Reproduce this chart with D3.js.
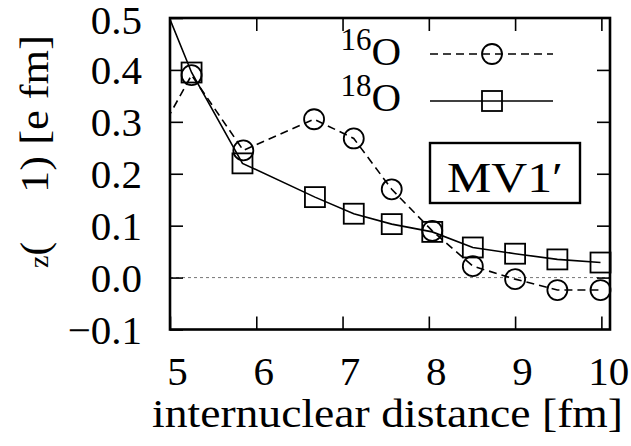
<!DOCTYPE html>
<html>
<head>
<meta charset="utf-8">
<script src="https://cdn.jsdelivr.net/npm/d3@7"></script>
<style>
  html, body { margin: 0; padding: 0; background: #fff; }
  svg { display: block; }
  text { font-family: "Liberation Serif", "Times New Roman", serif; fill: #000; }
</style>
</head>
<body>
<svg id="chart" width="631" height="446"></svg>
<script>
// ---- data ----
const xTicks = [5, 6, 7, 8, 9, 10];
const yTicks = [-0.1, 0.0, 0.1, 0.2, 0.3, 0.4, 0.5];
const yTickLabels = ["\u22120.1", "0.0", "0.1", "0.2", "0.3", "0.4", "0.5"];

// 16O (dashed, circles); first point lies left of the frame (line enters at x=5)
const x16 = [4.75, 5.25, 5.85, 6.67, 7.13, 7.57, 8.04, 8.51, 9.00, 9.49, 9.99];
const y16 = [0.240, 0.390, 0.245, 0.305, 0.268, 0.170, 0.090, 0.022, -0.003, -0.024, -0.024];

// 18O (solid, squares); first point lies left of the frame
const x18 = [4.75, 5.25, 5.84, 6.68, 7.13, 7.57, 8.04, 8.51, 9.00, 9.49, 9.99];
const y18 = [0.600, 0.395, 0.220, 0.155, 0.123, 0.103, 0.088, 0.058, 0.046, 0.035, 0.029];

const seriesNames = ["16O", "18O"];
const boxLabel = "MV1\u2032";
const xLabel = "internuclear distance [fm]";

// ---- layout ----
const L = 170, R = 610, T = 18, B = 329.5;
const FS = 41;

const svg = d3.select("#chart");
const x = d3.scaleLinear().domain([5, 10.1]).range([L, R]);
const y = d3.scaleLinear().domain([-0.1, 0.5]).range([B, T]);

svg.append("defs").append("clipPath").attr("id", "clip")
  .append("rect").attr("x", L).attr("y", T).attr("width", R - L).attr("height", B - T);

// zero line
svg.append("line")
  .attr("x1", x(5)).attr("x2", x(10.1)).attr("y1", y(0)).attr("y2", y(0))
  .attr("stroke", "#777").attr("stroke-width", 1).attr("stroke-dasharray", "3,3");

const d16 = x16.map((v, i) => [v, y16[i]]);
const d18 = x18.map((v, i) => [v, y18[i]]);
const line = d3.line().x(d => x(d[0])).y(d => y(d[1]));

const plot = svg.append("g").attr("clip-path", "url(#clip)");
plot.append("path").datum(d16).attr("d", line)
  .attr("fill", "none").attr("stroke", "#000").attr("stroke-width", 1.6)
  .attr("stroke-dasharray", "8,5");
plot.append("path").datum(d18).attr("d", line)
  .attr("fill", "none").attr("stroke", "#000").attr("stroke-width", 1.6);

const inside = d => d[0] >= 5 && d[0] <= 10.1;
svg.append("g").selectAll("circle").data(d16.filter(inside)).join("circle")
  .attr("cx", d => x(d[0])).attr("cy", d => y(d[1])).attr("r", 10)
  .attr("fill", "none").attr("stroke", "#000").attr("stroke-width", 1.8);
svg.append("g").selectAll("rect").data(d18.filter(inside)).join("rect")
  .attr("x", d => x(d[0]) - 10).attr("y", d => y(d[1]) - 10)
  .attr("width", 20).attr("height", 20)
  .attr("fill", "none").attr("stroke", "#000").attr("stroke-width", 1.8);

// axes (inward ticks on all sides)
const TK = 13;
function styleAxis(g) {
  g.select(".domain").remove();
  g.selectAll(".tick line").attr("stroke", "#000").attr("stroke-width", 1.6);
}
const gx = svg.append("g").attr("transform", `translate(0,${B})`)
  .call(d3.axisBottom(x).tickValues(xTicks).tickSize(-TK).tickFormat(d3.format("d")))
  .call(styleAxis);
gx.selectAll(".tick text").attr("y", 55).attr("dy", null).attr("dx", 7)
  .attr("font-size", FS).attr("font-family", "Liberation Serif");

svg.append("g").attr("transform", `translate(0,${T})`)
  .call(d3.axisTop(x).tickValues(xTicks.filter(v => v > 5 && v < 10.1)).tickSize(-TK).tickFormat(""))
  .call(styleAxis);

const gy = svg.append("g").attr("transform", `translate(${L},0)`)
  .call(d3.axisLeft(y).tickValues(yTicks).tickSize(-TK).tickFormat((d, i) => yTickLabels[i]))
  .call(styleAxis);
gy.selectAll(".tick text").attr("x", -28).attr("dy", (d) => d === 0.5 ? 15 : 14)
  .attr("font-size", FS).attr("font-family", "Liberation Serif");

svg.append("g").attr("transform", `translate(${R},0)`)
  .call(d3.axisRight(y).tickValues(yTicks.filter(v => v > -0.1 && v < 0.5)).tickSize(-TK).tickFormat(""))
  .call(styleAxis);

// frame
svg.append("rect").attr("x", L).attr("y", T).attr("width", R - L).attr("height", B - T)
  .attr("fill", "none").attr("stroke", "#000").attr("stroke-width", 2.6);

// axis labels
svg.append("text").attr("x", 152).attr("y", 427).attr("text-anchor", "start")
  .attr("font-size", FS).attr("textLength", 471).attr("lengthAdjust", "spacingAndGlyphs")
  .text(xLabel);

const ylg = svg.append("g").attr("transform", "translate(48,268) rotate(-90)");
const yl1 = ylg.append("text").attr("x", 0).attr("y", 0).attr("font-size", FS);
yl1.append("tspan").attr("font-size", 28).text("z");
yl1.append("tspan").text("(");
ylg.append("text").attr("x", 75).attr("y", 0).attr("font-size", FS)
  .attr("textLength", 158).attr("lengthAdjust", "spacingAndGlyphs").text("1) [e fm]");

// legend
const legRows = [{ y: 54, base: 65, dash: "8,5", mark: "circle" },
                 { y: 101, base: 111, dash: null, mark: "square" }];
legRows.forEach((r, i) => {
  const t = svg.append("text").attr("x", 401).attr("y", r.base).attr("text-anchor", "end");
  t.append("tspan").attr("font-size", 31).attr("dy", -15).text(seriesNames[i].slice(0, 2));
  t.append("tspan").attr("font-size", FS).attr("dy", 15).text(seriesNames[i].slice(2));
  const ln = svg.append("line").attr("x1", 430).attr("x2", 553).attr("y1", r.y).attr("y2", r.y)
    .attr("stroke", "#000").attr("stroke-width", 1.6);
  if (r.dash) ln.attr("stroke-dasharray", r.dash);
  if (r.mark === "circle") {
    svg.append("circle").attr("cx", 492).attr("cy", r.y).attr("r", 10)
      .attr("fill", "none").attr("stroke", "#000").attr("stroke-width", 1.8);
  } else {
    svg.append("rect").attr("x", 482).attr("y", r.y - 10).attr("width", 20).attr("height", 20)
      .attr("fill", "none").attr("stroke", "#000").attr("stroke-width", 1.8);
  }
});

// MV1' box
svg.append("rect").attr("x", 430).attr("y", 143).attr("width", 150).attr("height", 60)
  .attr("fill", "#fff").attr("stroke", "#000").attr("stroke-width", 2.4);
svg.append("text").attr("x", 447).attr("y", 192).attr("text-anchor", "start")
  .attr("font-size", 43).attr("textLength", 116).attr("lengthAdjust", "spacingAndGlyphs").text(boxLabel);
</script>
</body>
</html>
